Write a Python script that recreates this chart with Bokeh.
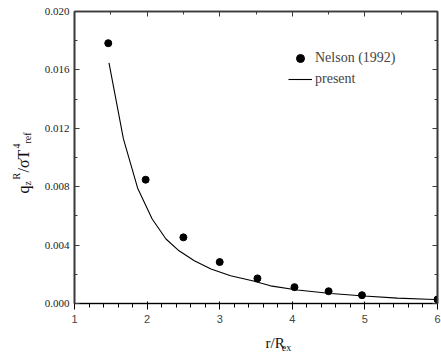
import math
from bokeh.plotting import figure
from bokeh.layouts import row, column
from bokeh.models import (FixedTicker, LinearAxis, Range1d, Legend, LegendItem,
                          NumeralTickFormatter, CustomJSTickFormatter)
from bokeh.core.properties import value
from bokeh.embed import file_html
from bokeh.resources import INLINE

# ---- data ----
nelson_x = [1.465, 1.98, 2.50, 3.00, 3.52, 4.03, 4.50, 4.96, 6.00]
nelson_y = [0.01783, 0.00848, 0.00453, 0.00284, 0.00172, 0.00112, 0.00084, 0.00057, 0.00028]

present_x = [1.475, 1.674, 1.87, 2.07, 2.26, 2.44, 2.65, 2.88, 3.15, 3.45, 3.70,
             4.07, 4.53, 4.99, 5.45, 5.95]
present_y = [0.01648, 0.01127, 0.00790, 0.00579, 0.00442, 0.00361, 0.00293, 0.00236,
             0.00190, 0.00156, 0.00121, 0.00092, 0.00069, 0.00051, 0.00037, 0.00027]

x_major = [1, 2, 3, 4, 5, 6]
x_minor = [1.5, 2.5, 3.5, 4.5, 5.5]
y_major = [0.000, 0.004, 0.008, 0.012, 0.016, 0.020]
y_minor = [0.002, 0.006, 0.010, 0.014, 0.018]

FONT = "Liberation Serif"
W, H = 441, 352
LW = 40          # width of the strip holding the y title
BH = 22          # height of the strip holding the x title
FL, FR, FT, FB = 74, 4, 11, 49   # frame borders in the full picture

main = figure(width=W - LW, height=H - BH, output_backend="svg", toolbar_location=None,
              x_range=Range1d(1, 6), y_range=Range1d(0, 0.020),
              min_border_left=FL - LW, min_border_right=FR, min_border_top=FT,
              min_border_bottom=FB - BH)
main.grid.visible = False
main.outline_line_color = "#3a3a3a"
main.outline_line_width = 1.6
main.background_fill_color = "white"
main.border_fill_color = "white"

blank = CustomJSTickFormatter(code="return '';")
top = LinearAxis(formatter=blank)
right = LinearAxis(formatter=blank)
main.add_layout(top, "above")
main.add_layout(right, "right")

main.xaxis[0].ticker = FixedTicker(ticks=x_major, minor_ticks=x_minor)
top.ticker = FixedTicker(ticks=x_major, minor_ticks=x_minor)
main.yaxis[0].ticker = FixedTicker(ticks=y_major, minor_ticks=y_minor)
right.ticker = FixedTicker(ticks=y_major, minor_ticks=y_minor)
main.yaxis[0].formatter = NumeralTickFormatter(format="0.000")

for ax in [main.xaxis[0], main.yaxis[0], top, right]:
    ax.axis_line_color = "#3a3a3a"
    ax.axis_line_width = 1.6
    ax.major_tick_line_color = "#3a3a3a"
    ax.minor_tick_line_color = "#3a3a3a"
    ax.major_tick_in = 5
    ax.major_tick_out = 0
    ax.minor_tick_in = 3
    ax.minor_tick_out = 0
    ax.major_label_text_font = FONT
    ax.major_label_text_font_size = "11px"
    ax.major_label_text_color = "#222222"

main.xaxis[0].major_label_standoff = -4
main.yaxis[0].major_label_standoff = 5
for ax in [top, right]:
    ax.major_label_standoff = 0

r1 = main.scatter(nelson_x, nelson_y, size=7, color="black")
r2 = main.line(present_x, present_y, line_color="black", line_width=1.1)

legend = Legend(items=[LegendItem(label="Nelson (1992)", renderers=[r1]),
                       LegendItem(label="present", renderers=[r2])],
                location=(214, 214), border_line_color=None, background_fill_alpha=0,
                padding=0, margin=0, spacing=1, glyph_width=24, glyph_height=20,
                label_standoff=3, label_height=20, label_text_font=FONT,
                label_text_font_size="14px")
main.add_layout(legend)


def strip(width, height, x0, y0):
    # a plain figure whose data units are picture pixels (x right, y up from picture bottom)
    f = figure(width=width, height=height, output_backend="svg", toolbar_location=None,
               x_range=Range1d(x0, x0 + width), y_range=Range1d(y0, y0 + height),
               min_border=0, x_axis_type=None, y_axis_type=None)
    f.grid.visible = False
    f.outline_line_color = None
    f.background_fill_color = "white"
    f.border_fill_color = "white"
    return f


left = strip(LW, H, 0, 0)
bottom = strip(W - LW, BH, LW, 0)


def put(f, text, px, py, size, angle=0.0):
    f.text(x=[px], y=[H - py], text=[text], angle=angle, text_font=value(FONT),
           text_font_size=value(size), text_align="left", text_baseline="alphabetic",
           text_color="#111111")


# x-axis title  r/R_ex
put(bottom, "r/R", 251, 342, "15px")
put(bottom, "ex", 269, 347, "10px")

# y-axis title  q_z^R / sigma T^4_ref (rotated)
a = math.pi / 2
put(left, "q", 23, 193, "16px", a)
put(left, "z", 27, 185, "10px", a)
put(left, "R", 16, 179, "10px", a)
put(left, "/\u03c3T", 23, 172, "16px", a)
put(left, "4", 16, 148, "10px", a)
put(left, "ref", 27, 143, "10px", a)

layout = row(left, column(main, bottom, spacing=0), spacing=0)
open("out.html", "w").write(file_html(layout, INLINE))
